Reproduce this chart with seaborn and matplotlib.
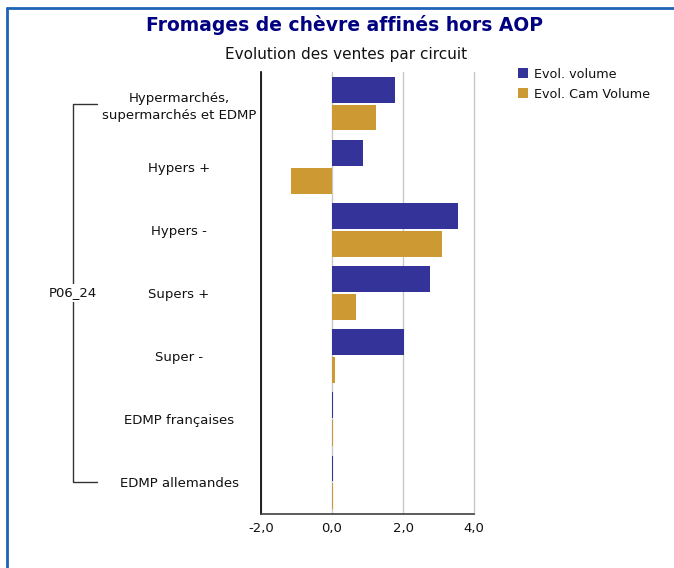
import matplotlib
matplotlib.use("Agg")
import matplotlib.pyplot as plt
import matplotlib.transforms as mtransforms
from matplotlib.lines import Line2D
import seaborn as sns
import pandas as pd

categories = ["Hypermarchés,\nsupermarchés et EDMP", "Hypers +", "Hypers -", "Supers +",
              "Super -", "EDMP françaises", "EDMP allemandes"]
evol_volume = [1.77, 0.87, 3.55, 2.76, 2.03, 0.03, 0.03]
evol_cam_volume = [1.24, -1.15, 3.10, 0.68, 0.08, 0.03, 0.03]
series_names = ["Evol. volume", "Evol. Cam Volume"]
xticks = [-2, 0, 2, 4]
xtick_labels = ["-2,0", "0,0", "2,0", "4,0"]
group_label = "P06_24"

df = pd.DataFrame({
    "circuit": categories * 2,
    "valeur": evol_volume + evol_cam_volume,
    "serie": [series_names[0]] * len(categories) + [series_names[1]] * len(categories),
})

sns.set_theme(style="white")
plt.rcParams["font.family"] = ["DejaVu Sans"]

fig = plt.figure(figsize=(6.74, 5.68), dpi=100)
ax = fig.add_axes([261 / 674, (568 - 514) / 568, 213 / 674, 442 / 568])

sns.barplot(data=df, y="circuit", x="valeur", hue="serie", orient="h",
            palette=["#333399", "#CC9933"], width=0.88, gap=0.07,
            saturation=1, ax=ax, legend=True, linewidth=0, edgecolor="none")

ax.set_xlim(-2, 4)
ax.set_ylim(len(categories) - 0.5, -0.5)
ax.set_xticks(xticks)
ax.set_xticklabels(xtick_labels, fontsize=9.5, color="#111111")
ax.set_xlabel("")
ax.set_ylabel("")
ax.grid(axis="x", color="#c8c8c8", linewidth=1)
for gl in ax.get_xgridlines():
    gl.set_clip_on(False)
ax.set_axisbelow(True)
ax.tick_params(axis="both", length=0)
ax.tick_params(axis="x", pad=6)
ax.tick_params(axis="y", pad=59, labelsize=9.5, labelcolor="#111111")
for lbl in ax.get_yticklabels():
    lbl.set_horizontalalignment("center")
    lbl.set_multialignment("center")
    lbl.set_linespacing(1.4)

for s in ["top", "right"]:
    ax.spines[s].set_visible(False)
ax.spines["left"].set_color("black")
ax.spines["left"].set_linewidth(1.2)
ax.spines["bottom"].set_color("#404040")
ax.spines["bottom"].set_linewidth(1.2)

leg = ax.legend(loc="upper left", bbox_to_anchor=(506 / 674, 1 - 56 / 568),
                bbox_transform=fig.transFigure, frameon=False, fontsize=9.2,
                handlelength=0.8, handleheight=0.8, handletextpad=0.5,
                labelspacing=0.55)
for t in leg.get_texts():
    t.set_color("#111111")

# bracket on the left
tr = mtransforms.blended_transform_factory(fig.transFigure, ax.transData)
x0, x1 = 73 / 674, 97 / 674
ax.plot([x1, x0, x0, x1], [0, 0, len(categories) - 1, len(categories) - 1],
        color="#333333", lw=1, transform=tr, clip_on=False)
ax.text(x0, 3, group_label, transform=tr, ha="center", va="center", fontsize=9.5,
        color="#111111", bbox=dict(facecolor="white", edgecolor="none", pad=2))

fig.text(345 / 674, 1 - 25 / 568, "Fromages de chèvre affinés hors AOP",
         ha="center", va="center", fontsize=13.5, fontweight="bold", color="#000080")
fig.text(346 / 674, 1 - 55 / 568, "Evolution des ventes par circuit",
         ha="center", va="center", fontsize=11, color="#111111")

# frame border
fig.add_artist(Line2D([7 / 674, 7 / 674], [0, 1 - 8 / 568], color="#1F63B5", lw=2,
                      transform=fig.transFigure))
fig.add_artist(Line2D([7 / 674, 1], [1 - 8 / 568, 1 - 8 / 568], color="#1F63B5", lw=2,
                      transform=fig.transFigure))

fig.savefig("out.png", dpi=100)
